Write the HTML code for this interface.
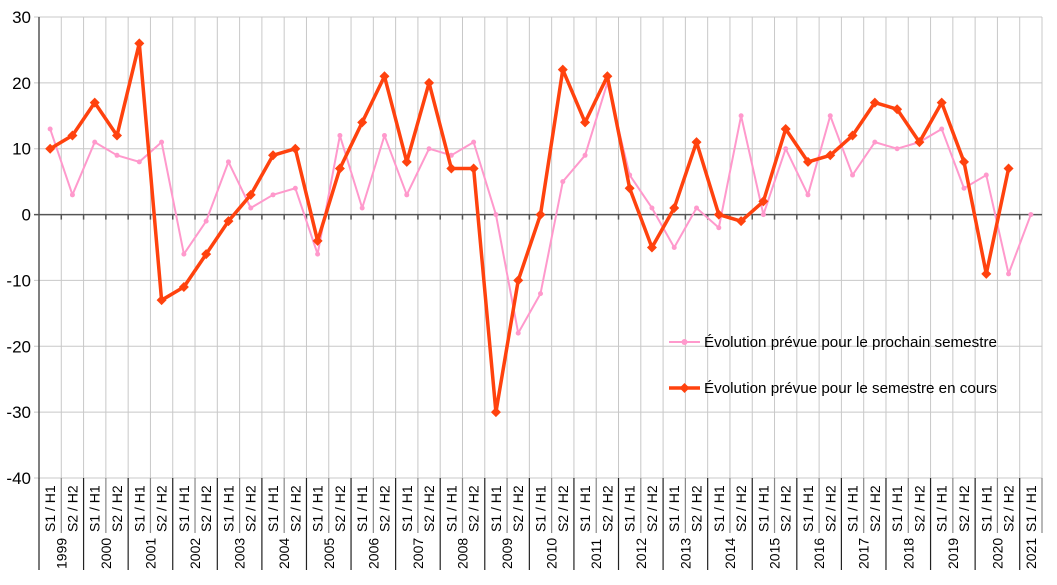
<!DOCTYPE html>
<html><head><meta charset="utf-8"><style>
body{margin:0;background:#fff;font-family:"Liberation Sans",sans-serif}
svg text{font-family:"Liberation Sans",sans-serif}
</style></head><body>
<svg id="c" width="1057" height="580" viewBox="0 0 1057 580"></svg>
<script>
const yTicks=[30,20,10,0,-10,-20,-30,-40];
const years=["1999","2000","2001","2002","2003","2004","2005","2006","2007","2008","2009","2010","2011","2012","2013","2014","2015","2016","2017","2018","2019","2020","2021"];
const semLabels=["S1 / H1","S2 / H2"];
const seriesNext=[13,3,11,9,8,11,-6,-1,8,1,3,4,-6,12,1,12,3,10,9,11,0,-18,-12,5,9,20,6,1,-5,1,-2,15,0,10,3,15,6,11,10,11,13,4,6,-9,0];
const seriesCurrent=[10,12,17,12,26,-13,-11,-6,-1,3,9,10,-4,7,14,21,8,20,7,7,-30,-10,0,22,14,21,4,-5,1,11,0,-1,2,13,8,9,12,17,16,11,17,8,-9,7,null];
const N=45,X0=39,X1=1042,Y0=17,Y1=478;
const cw=(X1-X0)/N;
const sy=v=>Y0+(30-v)*(Y1-Y0)/70;
const sx=i=>X0+cw*(i+0.5);
const svg=document.getElementById('c');const NS='http://www.w3.org/2000/svg';
function mk(t,a,p){const e=document.createElementNS(NS,t);for(const k in a)e.setAttribute(k,a[k]);(p||svg).appendChild(e);return e;}
for(let i=1;i<=N;i++){const x=X0+cw*i;const l=mk('line',{x1:x,y1:Y0,x2:x,y2:Y1,stroke:'#c8c8c8','stroke-width':1});}
yTicks.forEach(v=>{const y=sy(v);const l=mk('line',{x1:X0-5,y1:y,x2:X1,y2:y,stroke:v===0?'#555':'#c8c8c8','stroke-width':v===0?1.5:1});
const t=mk('text',{x:X0-8,y:y+6,'text-anchor':'end','font-size':17});t.textContent=v;});
for(let i=1;i<N;i++){const x=X0+cw*i;mk('line',{x1:x,y1:sy(0),x2:x,y2:sy(0)+5,stroke:'#555','stroke-width':1.5});}
const ax=mk('line',{x1:X0,y1:Y0,x2:X0,y2:Y1,stroke:'#555','stroke-width':1.5});
for(let i=0;i<=N;i++){const x=X0+cw*i;const yearB=i%2===0;mk('line',{x1:x,y1:Y1,x2:x,y2:yearB?570:533,stroke:yearB?'#222':'#888','stroke-width':1.2});}
for(let i=0;i<N;i++){const x=sx(i)+5;const t=mk('text',{x:x,y:532,'font-size':14,transform:`rotate(-90 ${x} 532)`});t.textContent=semLabels[i%2];}
years.forEach((yr,k)=>{const x=(k===22?sx(44)+5:X0+cw*(2*k+1)+5);const t=mk('text',{x:x,y:569,'font-size':14,transform:`rotate(-90 ${x} 569)`});t.textContent=yr;});
function line(data,color,w,name,marker){let d='';data.forEach((v,i)=>{if(v===null)return;d+=(d?'L':'M')+sx(i)+','+sy(v);});
const p=mk('path',{d:d,fill:'none',stroke:color,'stroke-width':w,'stroke-linejoin':'round'});
data.forEach((v,i)=>{if(v===null)return;const x=sx(i),y=sy(v);let m;if(marker==='d'){m=mk('polygon',{points:`${x},${y-5} ${x+5},${y} ${x},${y+5} ${x-5},${y}`,fill:color});}else{m=mk('circle',{cx:x,cy:y,r:2.5,fill:color});}
});}
line(seriesNext,'#ff99cc',2,'next-semester','c');
line(seriesCurrent,'#ff420e',3.5,'current-semester','d');
const lg=mk('g',{});
mk('line',{x1:669,y1:342,x2:700,y2:342,stroke:'#ff99cc','stroke-width':2},lg);mk('circle',{cx:684.5,cy:342,r:3,fill:'#ff99cc'},lg);
let t1=mk('text',{x:704,y:347,'font-size':15.2},lg);t1.textContent='Évolution prévue pour le prochain semestre';
mk('line',{x1:669,y1:388,x2:700,y2:388,stroke:'#ff420e','stroke-width':3.5},lg);mk('polygon',{points:'684.5,383 689.5,388 684.5,393 679.5,388',fill:'#ff420e'},lg);
let t2=mk('text',{x:704,y:393,'font-size':15.2},lg);t2.textContent='Évolution prévue pour le semestre en cours';
</script>
</body></html>
